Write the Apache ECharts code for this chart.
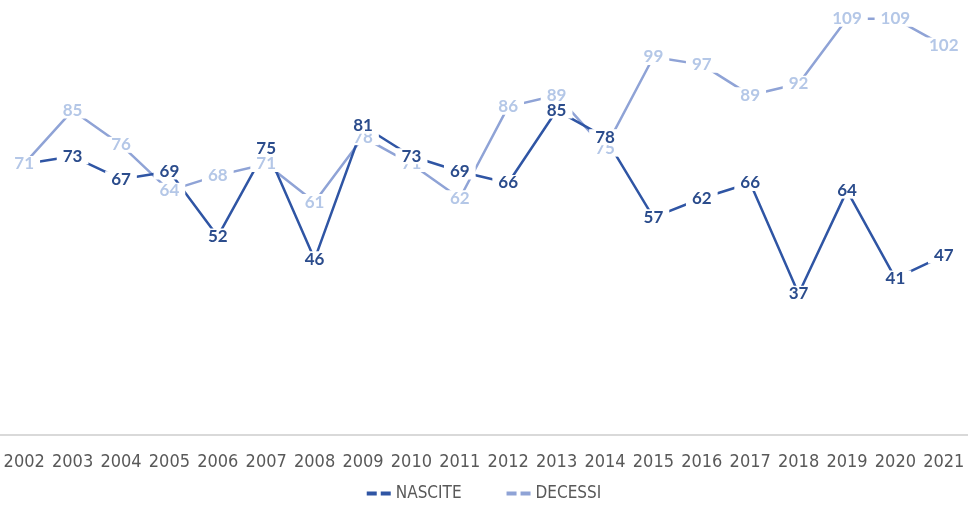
<!DOCTYPE html>
<html lang="it">
<head>
<meta charset="UTF-8">
<title>Nascite e decessi</title>
<script src="https://cdn.jsdelivr.net/npm/echarts@6/dist/echarts.min.js"></script>
<style>
  html, body { margin: 0; padding: 0; background: #fff; }
</style>
</head>
<body>
<div id="main" style="width: 968px; height: 511px;"></div>
<script>
  const years = ['2002', '2003', '2004', '2005', '2006', '2007', '2008', '2009', '2010', '2011',
    '2012', '2013', '2014', '2015', '2016', '2017', '2018', '2019', '2020', '2021'];
  const nascite = [71, 73, 67, 69, 52, 75, 46, 81, 73, 69, 66, 85, 78, 57, 62, 66, 37, 64, 41, 47];
  const decessi = [71, 85, 76, 64, 68, 71, 61, 78, 71, 62, 86, 89, 75, 99, 97, 89, 92, 109, 109, 102];

  const chart = echarts.init(document.getElementById('main'));

  const dashIcon = 'path://M0,0 L10,0 L10,4 L0,4 Z M14,0 L24,0 L24,4 L14,4 Z';
  const narrow = "'Liberation Sans Narrow', 'DejaVu Sans Condensed', 'Noto Sans', sans-serif";

  function lineSeries(name, data, lineColor, labelColor) {
    return {
      name: name,
      type: 'line',
      data: data,
      symbol: 'circle',
      symbolSize: 0.1,
      itemStyle: { color: lineColor },
      lineStyle: { color: lineColor, width: 2.5 },
      label: {
        show: true,
        position: 'inside',
        color: labelColor,
        fontFamily: 'Lato',
        fontWeight: 'bold',
        fontSize: 17,
        lineHeight: 15,
        backgroundColor: '#fff',
        padding: [1, 6, 0, 6]
      },
      labelLayout: { hideOverlap: false },
      emphasis: { disabled: true }
    };
  }

  // first NASCITE label sits under the DECESSI one in the original
  const nasciteData = nascite.map((v, i) => i === 0 ? { value: v, label: { show: false } } : v);

  chart.setOption({
    animation: false,
    grid: { left: 0, right: 0, top: 15, bottom: 76 },
    legend: {
      bottom: 4,
      itemGap: 45,
      itemWidth: 24,
      itemHeight: 4,
      textStyle: { color: '#595959', fontFamily: narrow, fontSize: 17 },
      data: [
        { name: 'NASCITE', icon: dashIcon, itemStyle: { color: '#2f55a4' } },
        { name: 'DECESSI', icon: dashIcon, itemStyle: { color: '#8fa3d6' } }
      ]
    },
    xAxis: {
      type: 'category',
      data: years,
      boundaryGap: true,
      axisLine: { lineStyle: { color: '#d9d9d9', width: 2 } },
      axisTick: { show: false },
      axisLabel: {
        color: '#595959',
        fontFamily: narrow,
        fontSize: 18,
        margin: 18,
        interval: 0
      }
    },
    yAxis: {
      type: 'value',
      min: 0,
      max: 110,
      show: false,
      splitLine: { show: false }
    },
    series: [
      lineSeries('DECESSI', decessi, '#8fa3d6', '#b4c7e7'),
      lineSeries('NASCITE', nasciteData, '#2f55a4', '#2b4c8c')
    ]
  });
</script>
</body>
</html>
